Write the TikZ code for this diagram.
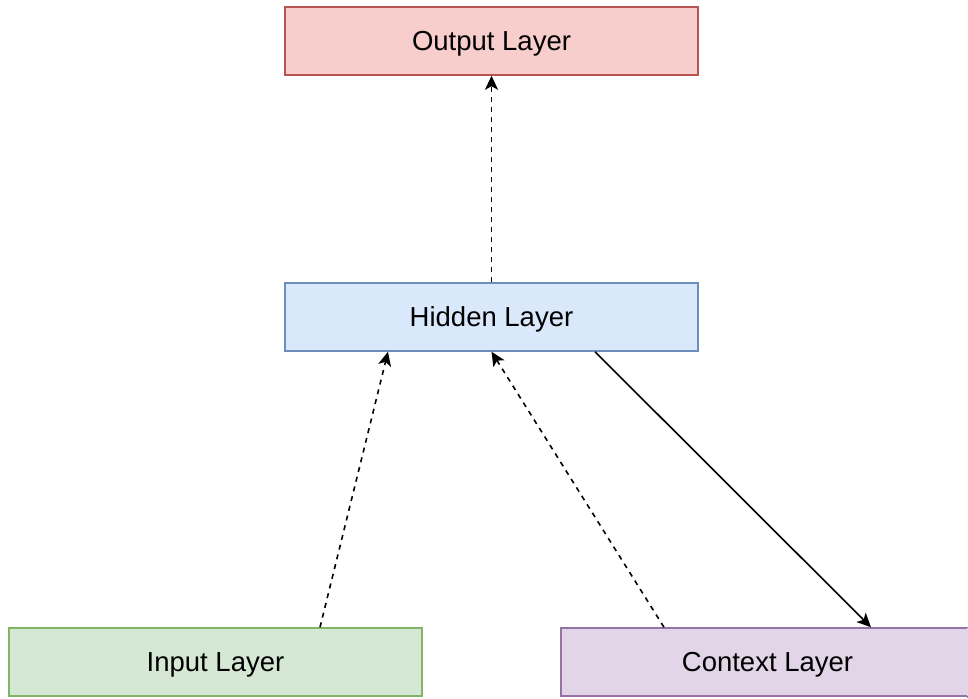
\documentclass[tikz,border=0pt]{standalone}
\usepackage{fontspec}
\setmainfont{Liberation Sans}
\usetikzlibrary{arrows.meta}
\definecolor{redfill}{HTML}{F8CECC}\definecolor{redline}{HTML}{B85450}
\definecolor{bluefill}{HTML}{DAE8FC}\definecolor{blueline}{HTML}{6C8EBF}
\definecolor{greenfill}{HTML}{D5E8D4}\definecolor{greenline}{HTML}{82B366}
\definecolor{purplefill}{HTML}{E1D5E7}\definecolor{purpleline}{HTML}{9673A6}
\tikzset{
  layer/.style={draw, line width=1.5pt, minimum width=413pt, minimum height=68pt,
    inner sep=0pt, font=\fontsize{27.5}{32}\selectfont},
  label/.style={font=\fontsize{27.5}{32}\selectfont},
  flow/.style={line width=1.6pt, -{Stealth[length=14pt,width=13pt,inset=3.5pt]}},
  feed/.style={flow, dash pattern=on 5pt off 5pt},
}
\begin{document}
\begin{tikzpicture}[x=1pt,y=-1pt]
  \useasboundingbox (0,0) rectangle (968,698);
  \node[layer, fill=redfill, draw=redline] (out) at (491.5,41) {};
  \node[layer, fill=bluefill, draw=blueline] (hid) at (491.5,317) {};
  \node[layer, fill=greenfill, draw=greenline] (inp) at (215.5,662) {};
  % the context box runs past the right edge of the page
  \node[layer, fill=purplefill, draw=purpleline] (ctx) at (767.5,662) {};
  \fill[purplefill] (ctx.north east) ++(-8pt,0.75pt) rectangle ([yshift=-0.75pt]ctx.south east);
  \draw[purpleline, line width=1.5pt] ([xshift=-8pt]ctx.north east) -- (ctx.north east)
    ([xshift=-8pt]ctx.south east) -- (ctx.south east);

  % captions sit a little below the box centres
  \node[label] (outtext) at ([yshift=-2.5pt]out.center) {Output Layer};
  \node[label] (hidtext) at ([yshift=-2.5pt]hid.center) {Hidden Layer};
  \node[label] (inptext) at ([yshift=-2.5pt]inp.center) {Input Layer};
  \node[label] (ctxtext) at ([yshift=-2.5pt]ctx.center) {Context Layer};

  \draw[feed] (hid.north) -- (out.south);
  \draw[feed] ([xshift=104.5pt]inp.north) -- ([xshift=-103.5pt]hid.south);
  \draw[feed] ([xshift=-103.5pt]ctx.north) -- (hid.south);
  \draw[flow] ([xshift=103.5pt]hid.south) -- ([xshift=103.5pt]ctx.north);
\end{tikzpicture}
\end{document}
